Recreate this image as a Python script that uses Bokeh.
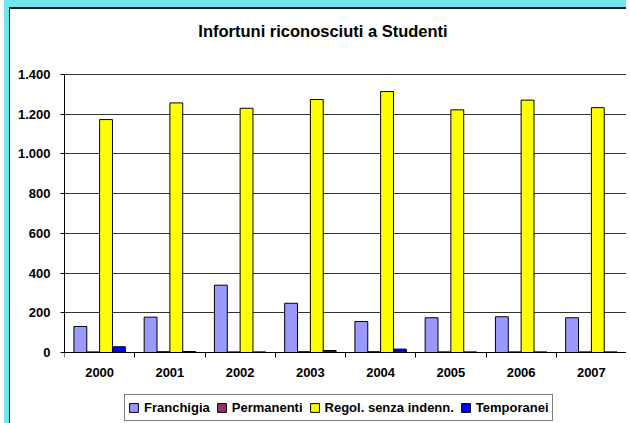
from bokeh.plotting import figure
from bokeh.models import ColumnDataSource, FixedTicker, Legend, LegendItem, Label
from bokeh.transform import dodge
from bokeh.embed import file_html
from bokeh.resources import INLINE

# ---- data ----
years = ["2000", "2001", "2002", "2003", "2004", "2005", "2006", "2007"]
franchigia = [131, 178, 339, 248, 156, 175, 180, 175]
permanenti = [3, 4, 3, 4, 4, 3, 3, 3]
regol_senza_indenn = [1173, 1257, 1230, 1274, 1314, 1222, 1271, 1233]
temporanei = [29, 5, 3, 10, 17, 3, 3, 3]
series_names = ["Franchigia", "Permanenti", "Regol. senza indenn.", "Temporanei"]
y_ticks = [0, 200, 400, 600, 800, 1000, 1200, 1400]
y_tick_labels = ["0", "200", "400", "600", "800", "1.000", "1.200", "1.400"]
title_text = "Infortuni riconosciuti a Studenti"

colors = ["#9999FF", "#993366", "#FFFF00", "#0000FF"]
FONT = "Liberation Sans"

# layout geometry (pixels, relative to the figure)
W, H = 626, 423
frame_top = 9
zero_px = 352                  # y of value 0 from figure top
top_px = 74                    # y of top tick from figure top
y_axis_max = y_ticks[-1]
ppu = (zero_px - top_px) / y_axis_max
y_end = (zero_px - frame_top) / ppu
y_start = -(H - zero_px) / ppu

centers = [i + 0.5 for i in range(len(years))]
source = ColumnDataSource(dict(
    xc=centers,
    s0=franchigia, s1=permanenti, s2=regol_senza_indenn, s3=temporanei,
))

p = figure(width=W, height=H, output_backend="svg", toolbar_location=None,
           x_range=(0, len(years)), y_range=(y_start, y_end), title=None,
           min_border_left=64, min_border_right=0, min_border_top=frame_top,
           min_border_bottom=0)
p.styles = {"box-shadow": "inset 4px 0 0 0 #FFFFFF, inset 9px 7px 0 0 #72E4EC, "
                          "inset 10px 9px 0 0 #1e1e1e",
            "background-color": "#FFFFFF",
            "vertical-align": "top"}
p.background_fill_color = "white"
p.border_fill_alpha = 0
p.outline_line_color = None

bw = 0.183
offsets = [-0.2745, -0.0915, 0.0915, 0.2745]
renderers = []
for k in range(4):
    r = p.vbar(x=dodge("xc", offsets[k], range=p.x_range), top="s%d" % k,
               width=bw, bottom=0, source=source,
               fill_color=colors[k], line_color="#000000", line_width=1)
    renderers.append(r)

# axes
p.xgrid.visible = False
p.ygrid.grid_line_color = "#333333"
p.ygrid.grid_line_width = 1
p.ygrid.ticker = FixedTicker(ticks=y_ticks)

p.yaxis.ticker = FixedTicker(ticks=y_ticks)
p.yaxis.bounds = (0, y_axis_max)
p.yaxis.major_label_overrides = {t: l for t, l in zip(y_ticks, y_tick_labels)}
p.yaxis.major_tick_out = 4
p.yaxis.major_tick_in = 0
p.yaxis.minor_tick_out = 0
p.yaxis.minor_tick_in = 0
p.yaxis.major_label_standoff = 10
p.yaxis.axis_line_color = "black"
p.yaxis.major_tick_line_color = "black"

p.xaxis.fixed_location = 0
p.xaxis.ticker = FixedTicker(ticks=centers, minor_ticks=list(range(len(years) + 1)))
p.xaxis.major_label_overrides = {c: y for c, y in zip(centers, years)}
p.xaxis.major_tick_out = 0
p.xaxis.major_tick_in = 0
p.xaxis.minor_tick_out = 5
p.xaxis.minor_tick_in = 0
p.xaxis.minor_tick_line_color = "black"
p.xaxis.major_label_standoff = 10
p.xaxis.axis_line_color = "black"

for ax in (p.xaxis[0], p.yaxis[0]):
    ax.major_label_text_font = FONT
    ax.major_label_text_font_size = "13px"
    ax.major_label_text_font_style = "bold"
    ax.major_label_text_color = "black"

# title as a label inside the (extended) frame
title = Label(x=258.5, y=393, x_units="screen", y_units="screen", text=title_text,
              text_align="center", text_baseline="alphabetic",
              text_font=FONT, text_font_size="16.5px", text_font_style="bold",
              text_color="black")
p.add_layout(title)

legend = Legend(items=[LegendItem(label=n, renderers=[r]) for n, r in zip(series_names, renderers)],
                orientation="horizontal", location=(60, 2),
                border_line_color="black", border_line_width=1,
                background_fill_color="white", background_fill_alpha=1,
                label_text_font=FONT, label_text_font_size="13px",
                label_text_font_style="bold", label_text_color="black",
                glyph_width=11, glyph_height=11, label_standoff=5, spacing=6,
                padding=3, margin=0, label_height=19)
p.add_layout(legend, "center")

open("out.html", "w").write(file_html(p, INLINE))
